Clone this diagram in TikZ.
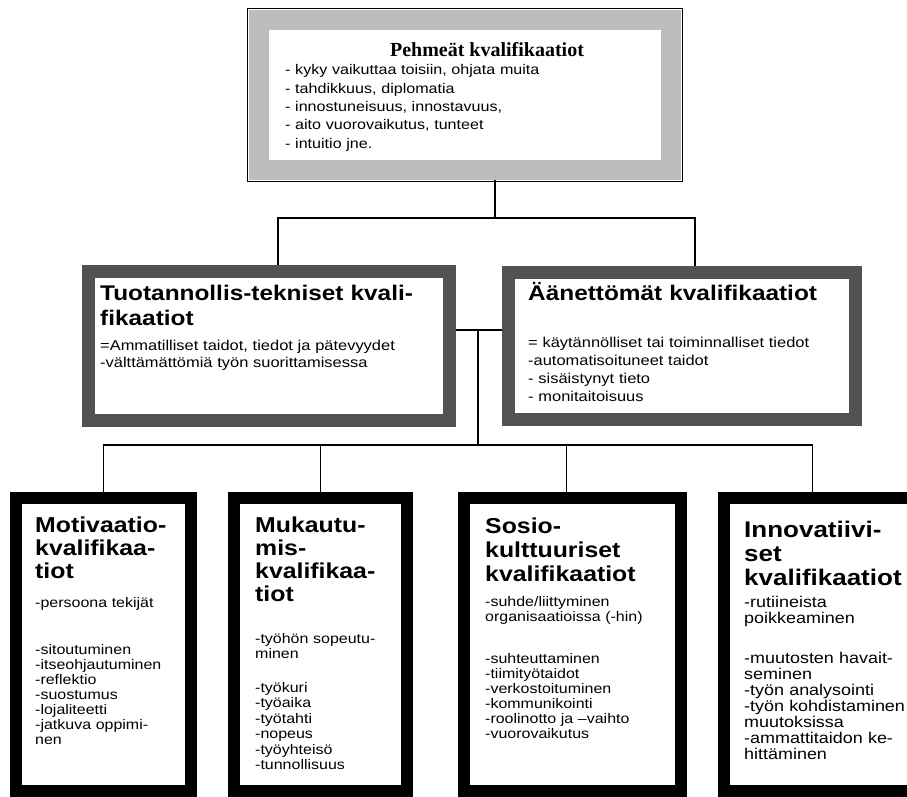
\documentclass[tikz,border=0pt]{standalone}
\usepackage{fontspec}
\setmainfont{Liberation Serif}
\newfontfamily\boxsans[FakeStretch=1.15]{Liberation Sans}

\tikzset{
  softbox/.style={draw=black!26, line width=20pt, fill=white, anchor=north west, inner sep=0pt},
  techbox/.style={draw=black!68, line width=13pt, fill=white, anchor=north west, inner sep=0pt},
  qualbox/.style={draw=black, line width=12pt, fill=white, anchor=north west, inner sep=0pt, minimum height=293pt},
  txt/.style={anchor=base west, inner sep=0pt, text width=330pt, align=left},
  head/.style={txt, font=\boxsans\bfseries\fontsize{21.6}{23.3}\selectfont},
  list/.style={txt, font=\boxsans\fontsize{13.9}{15}\selectfont},
  link/.style={line width=1.3pt},
}

\begin{document}
\begin{tikzpicture}[x=1pt, y=-1pt]
  \useasboundingbox (0,0) rectangle (907,797);

  % the boxes
  \node[softbox, minimum width=412pt, minimum height=150pt] (soft) at (249,10) {};
  \draw[line width=1.3pt] ([shift={(-1.5,-1.5)}]soft.north west) rectangle ([shift={(1.5,1.5)}]soft.south east);
  \node[techbox, minimum width=361pt, minimum height=149pt] (tech) at (82,265) {};
  \node[techbox, minimum width=347pt, minimum height=147pt] (tacit) at (502,266) {};
  \node[qualbox, minimum width=175pt] (motiv) at (10,492) {};
  \node[qualbox, minimum width=173pt] (adapt) at (228,492) {};
  \node[qualbox, minimum width=217pt] (socio) at (458,492) {};
  \node[qualbox, minimum width=195pt] (innov) at (718,492) {};

  % connecting lines
  \coordinate (upper) at (495,218);
  \coordinate (middle) at (478,330);
  \coordinate (lower) at (478,445);
  \draw[link] (soft.south -| upper) -- (upper);
  \draw[link] ([xshift=9pt]tech.north) |- (upper) -| ([xshift=13pt]tacit.north);
  \draw[link] (tech.east |- middle) -- (tacit.west |- middle);
  \draw[link] (middle) -- (lower);
  \draw[link] (motiv.north) |- (lower) -| ([xshift=-9pt]innov.north);
  \draw[link] (adapt.north) -- (adapt.north |- lower);
  \draw[link] ([xshift=-6pt]socio.north) -- ([xshift=-6pt]socio.north |- lower);

  % top box
  \node[anchor=base, inner sep=0pt, font=\fontsize{20}{24}\selectfont\bfseries] (softT) at (487,57) {Pehmeät kvalifikaatiot};
  \node[txt, font=\boxsans\fontsize{14}{18.3}\selectfont] (softL) at (285,75)
    {- kyky vaikuttaa toisiin, ohjata muita\\- tahdikkuus, diplomatia\\- innostuneisuus, innostavuus,\\- aito vuorovaikutus, tunteet\\- intuitio jne.};

  % middle boxes
  \node[head, font=\boxsans\bfseries\fontsize{21.2}{25}\selectfont] (techT) at (100,300) {Tuotannollis-tekniset kvali-\\fikaatiot};
  \node[txt, font=\boxsans\fontsize{14.3}{17}\selectfont] (techL) at (100,350)
    {=Ammatilliset taidot, tiedot ja pätevyydet\\-välttämättömiä työn suorittamisessa};
  \node[head, font=\boxsans\bfseries\fontsize{21.2}{25}\selectfont] (tacitT) at (528,300) {Äänettömät kvalifikaatiot};
  \node[txt, font=\boxsans\fontsize{14.3}{18.3}\selectfont] (tacitL) at (528,347)
    {= käytännölliset tai toiminnalliset tiedot\\-automatisoituneet taidot\\- sisäistynyt tieto\\- monitaitoisuus};

  % lower boxes
  \node[head] (motivT) at (35,532) {Motivaatio-\\kvalifikaa-\\tiot};
  \node[list] (motivL) at (35,607)
    {-persoona tekijät\\[32pt]-sitoutuminen\\-itseohjautuminen\\-reflektio\\-suostumus\\-lojaliteetti\\-jatkuva oppimi-\\nen};
  \node[head] (adaptT) at (255,532) {Mukautu-\\mis-\\kvalifikaa-\\tiot};
  \node[list, font=\boxsans\fontsize{13.9}{15.5}\selectfont] (adaptL) at (255,643)
    {-työhön sopeutu-\\minen\\[18pt]-työkuri\\-työaika\\-työtahti\\-nopeus\\-työyhteisö\\-tunnollisuus};
  \node[head, font=\boxsans\bfseries\fontsize{21.6}{24}\selectfont] (socioT) at (485,533) {Sosio-\\kulttuuriset\\kvalifikaatiot};
  \node[list] (socioL) at (485,606)
    {-suhde/liittyminen\\organisaatioissa (-hin)\\[27pt]-suhteuttaminen\\-tiimityötaidot\\-verkostoituminen\\-kommunikointi\\-roolinotto ja –vaihto\\-vuorovaikutus};
  \node[head, font=\boxsans\bfseries\fontsize{22.6}{24}\selectfont] (innovT) at (744,537) {Innovatiivi-\\set\\kvalifikaatiot};
  \node[list, font=\boxsans\fontsize{15.6}{16}\selectfont] (innovL) at (744,607)
    {-rutiineista\\poikkeaminen\\[24pt]-muutosten havait-\\seminen\\-työn analysointi\\-työn kohdistaminen\\muutoksissa\\-ammattitaidon ke-\\hittäminen};
\end{tikzpicture}
\end{document}
